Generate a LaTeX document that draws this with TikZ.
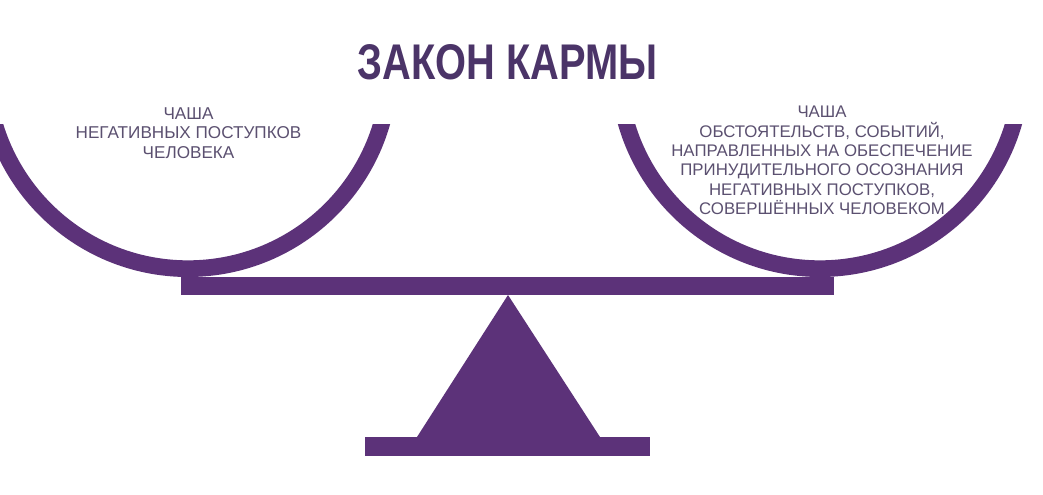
\documentclass[tikz,border=0pt]{standalone}
\usepackage{fontspec}
\setmainfont{Liberation Sans}
\definecolor{scalecol}{HTML}{5C3279}
\definecolor{titlecol}{HTML}{4B3468}
\definecolor{labelcol}{HTML}{5B5070}
\begin{document}
\begin{tikzpicture}[x=0.75pt,y=-0.75pt,
  part/.style={fill=scalecol},
  lbl/.style={text=labelcol, align=center, inner sep=0pt}]
\useasboundingbox (0,0) rectangle (1043,494);
\fill[white] (0,0) rectangle (1043,494);
\clip (0,0) rectangle (1043,494);
% bowls
\begin{scope}
  \clip (-60,124) rectangle (1100,300);
  \fill[part, even odd rule] (188,67) circle[radius=157.5pt] (188,67) circle[radius=145pt];
  \fill[part, even odd rule] (820,67) circle[radius=157.5pt] (820,67) circle[radius=145pt];
\end{scope}
% beam, stand, base
\fill[part] (181,277) rectangle (834,295);
\fill[part] (508,295) -- (417,437) -- (600,437) -- cycle;
\fill[part] (365,437) rectangle (650,456);
% texts
\node[text=titlecol, inner sep=0pt] (title) at (508,62)
  {\resizebox{225pt}{26.25pt}{\bfseries ЗАКОН КАРМЫ}};
\node[lbl, font=\fontsize{12.85pt}{14.6pt}\selectfont] (leftlbl) at (188.5,133)
  {ЧАША\\НЕГАТИВНЫХ ПОСТУПКОВ\\ЧЕЛОВЕКА};
\node[lbl, font=\fontsize{12.6pt}{14.6pt}\selectfont] (rightlbl) at (822,160.5)
  {ЧАША\\ОБСТОЯТЕЛЬСТВ, СОБЫТИЙ,\\НАПРАВЛЕННЫХ НА ОБЕСПЕЧЕНИЕ\\ПРИНУДИТЕЛЬНОГО ОСОЗНАНИЯ\\НЕГАТИВНЫХ ПОСТУПКОВ,\\СОВЕРШЁННЫХ ЧЕЛОВЕКОМ};
\end{tikzpicture}
\end{document}
